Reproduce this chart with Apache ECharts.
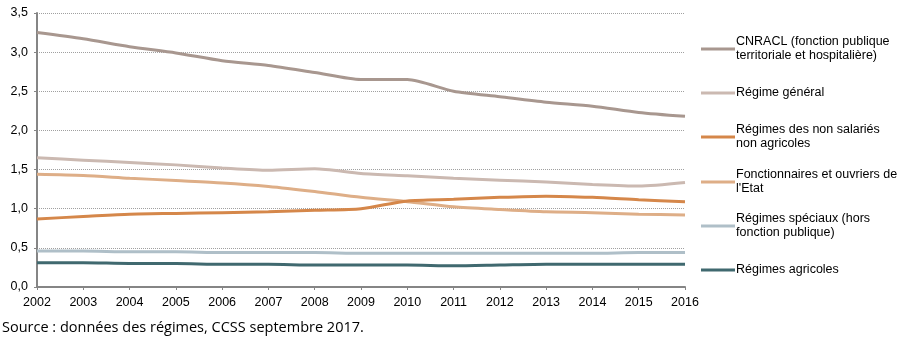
<!DOCTYPE html>
<html>
<head>
<meta charset="utf-8">
<script src="https://cdn.jsdelivr.net/npm/echarts@6/dist/echarts.min.js"></script>
<style>
html,body{margin:0;padding:0;background:#fff;}
#chart{width:923px;height:339px;}
</style>
</head>
<body>
<div id="chart"></div>
<script>
var years = ['2002','2003','2004','2005','2006','2007','2008','2009','2010','2011','2012','2013','2014','2015','2016'];
var cnracl = [3.25,3.17,3.07,2.99,2.89,2.83,2.74,2.65,2.65,2.50,2.43,2.36,2.31,2.23,2.18];
var regimeGeneral = [1.65,1.62,1.59,1.56,1.52,1.49,1.51,1.45,1.42,1.39,1.365,1.34,1.31,1.29,1.335];
var nonSalaries = [0.87,0.90,0.93,0.94,0.95,0.96,0.98,1.00,1.10,1.12,1.145,1.16,1.145,1.115,1.09];
var fonctionnaires = [1.44,1.425,1.39,1.36,1.33,1.285,1.22,1.145,1.09,1.025,0.99,0.96,0.95,0.93,0.92];
var speciaux = [0.46,0.46,0.45,0.45,0.44,0.44,0.44,0.43,0.43,0.43,0.43,0.43,0.43,0.44,0.44];
var agricoles = [0.31,0.31,0.30,0.30,0.29,0.29,0.28,0.28,0.28,0.27,0.28,0.29,0.29,0.29,0.29];

var seriesNames = [
  'CNRACL (fonction publique\nterritoriale et hospitalière)',
  'Régime général',
  'Régimes des non salariés\nnon agricoles',
  'Fonctionnaires et ouvriers de\nl\'Etat',
  'Régimes spéciaux (hors\nfonction publique)',
  'Régimes agricoles'
];
var seriesData = [cnracl, regimeGeneral, nonSalaries, fonctionnaires, speciaux, agricoles];
var colors = ['#a8978f','#cbb9b1','#d5874a','#deae87','#afbfc8','#40696f'];
var legendTops = [49, 93, 137, 182, 226, 270];
var sourceText = 'Source : données des régimes, CCSS septembre 2017.';

var FONT = "'Liberation Sans', Arial, sans-serif";
var chart = echarts.init(document.getElementById('chart'), null, {renderer:'canvas'});

var legends = seriesNames.map(function(n, i){
  var twoLines = n.indexOf('\n') >= 0;
  return {
    data: [n],
    orient: 'vertical',
    left: 701,
    top: legendTops[i] - (twoLines ? 21 : 7),
    padding: 0,
    itemWidth: 34,
    itemHeight: 14,
    itemGap: 0,
    selectedMode: false,
    icon: 'path://M0,6 L34,6 L34,9 L0,9 Z',
    textStyle: {
      fontFamily: FONT,
      fontSize: 12.5,
      color: '#000',
      lineHeight: 14,
      padding: twoLines ? [14, 0, 0, -4] : [0, 0, 0, -4]
    }
  };
});

var option = {
  animation: false,
  color: colors,
  grid: {left: 37, right: 238, top: 13, bottom: 52, containLabel: false},
  legend: legends,
  xAxis: {
    type: 'category',
    data: years,
    boundaryGap: false,
    axisLine: {lineStyle: {color: '#858585', width: 2}},
    axisTick: {show: true, length: 3, lineStyle: {color: '#858585'}},
    axisLabel: {color: '#000', fontSize: 12.5, fontFamily: FONT, margin: 9}
  },
  yAxis: {
    type: 'value',
    min: 0, max: 3.5, interval: 0.5,
    axisLine: {show: true, lineStyle: {color: '#858585', width: 2}},
    axisTick: {show: true, length: 3, lineStyle: {color: '#858585'}},
    axisLabel: {
      color: '#000', fontSize: 12.5, fontFamily: FONT, margin: 9,
      formatter: function(v){ return v.toFixed(1).replace('.', ','); }
    },
    splitLine: {show: true, lineStyle: {color: '#a0a0a0', type: 'dotted', width: 1}}
  },
  series: seriesNames.map(function(n, i){
    return {
      name: n,
      type: 'line',
      data: seriesData[i],
      smooth: 0.25,
      symbol: 'none',
      lineStyle: {width: 3, color: colors[i]},
      itemStyle: {color: colors[i]},
      z: 10 - i
    };
  }),
  graphic: [{
    type: 'text',
    left: 2,
    top: 320,
    style: {
      text: sourceText,
      fill: '#000',
      font: "14.5px 'Open Sans', 'Noto Sans', sans-serif"
    }
  }]
};
chart.setOption(option);
</script>
</body>
</html>
